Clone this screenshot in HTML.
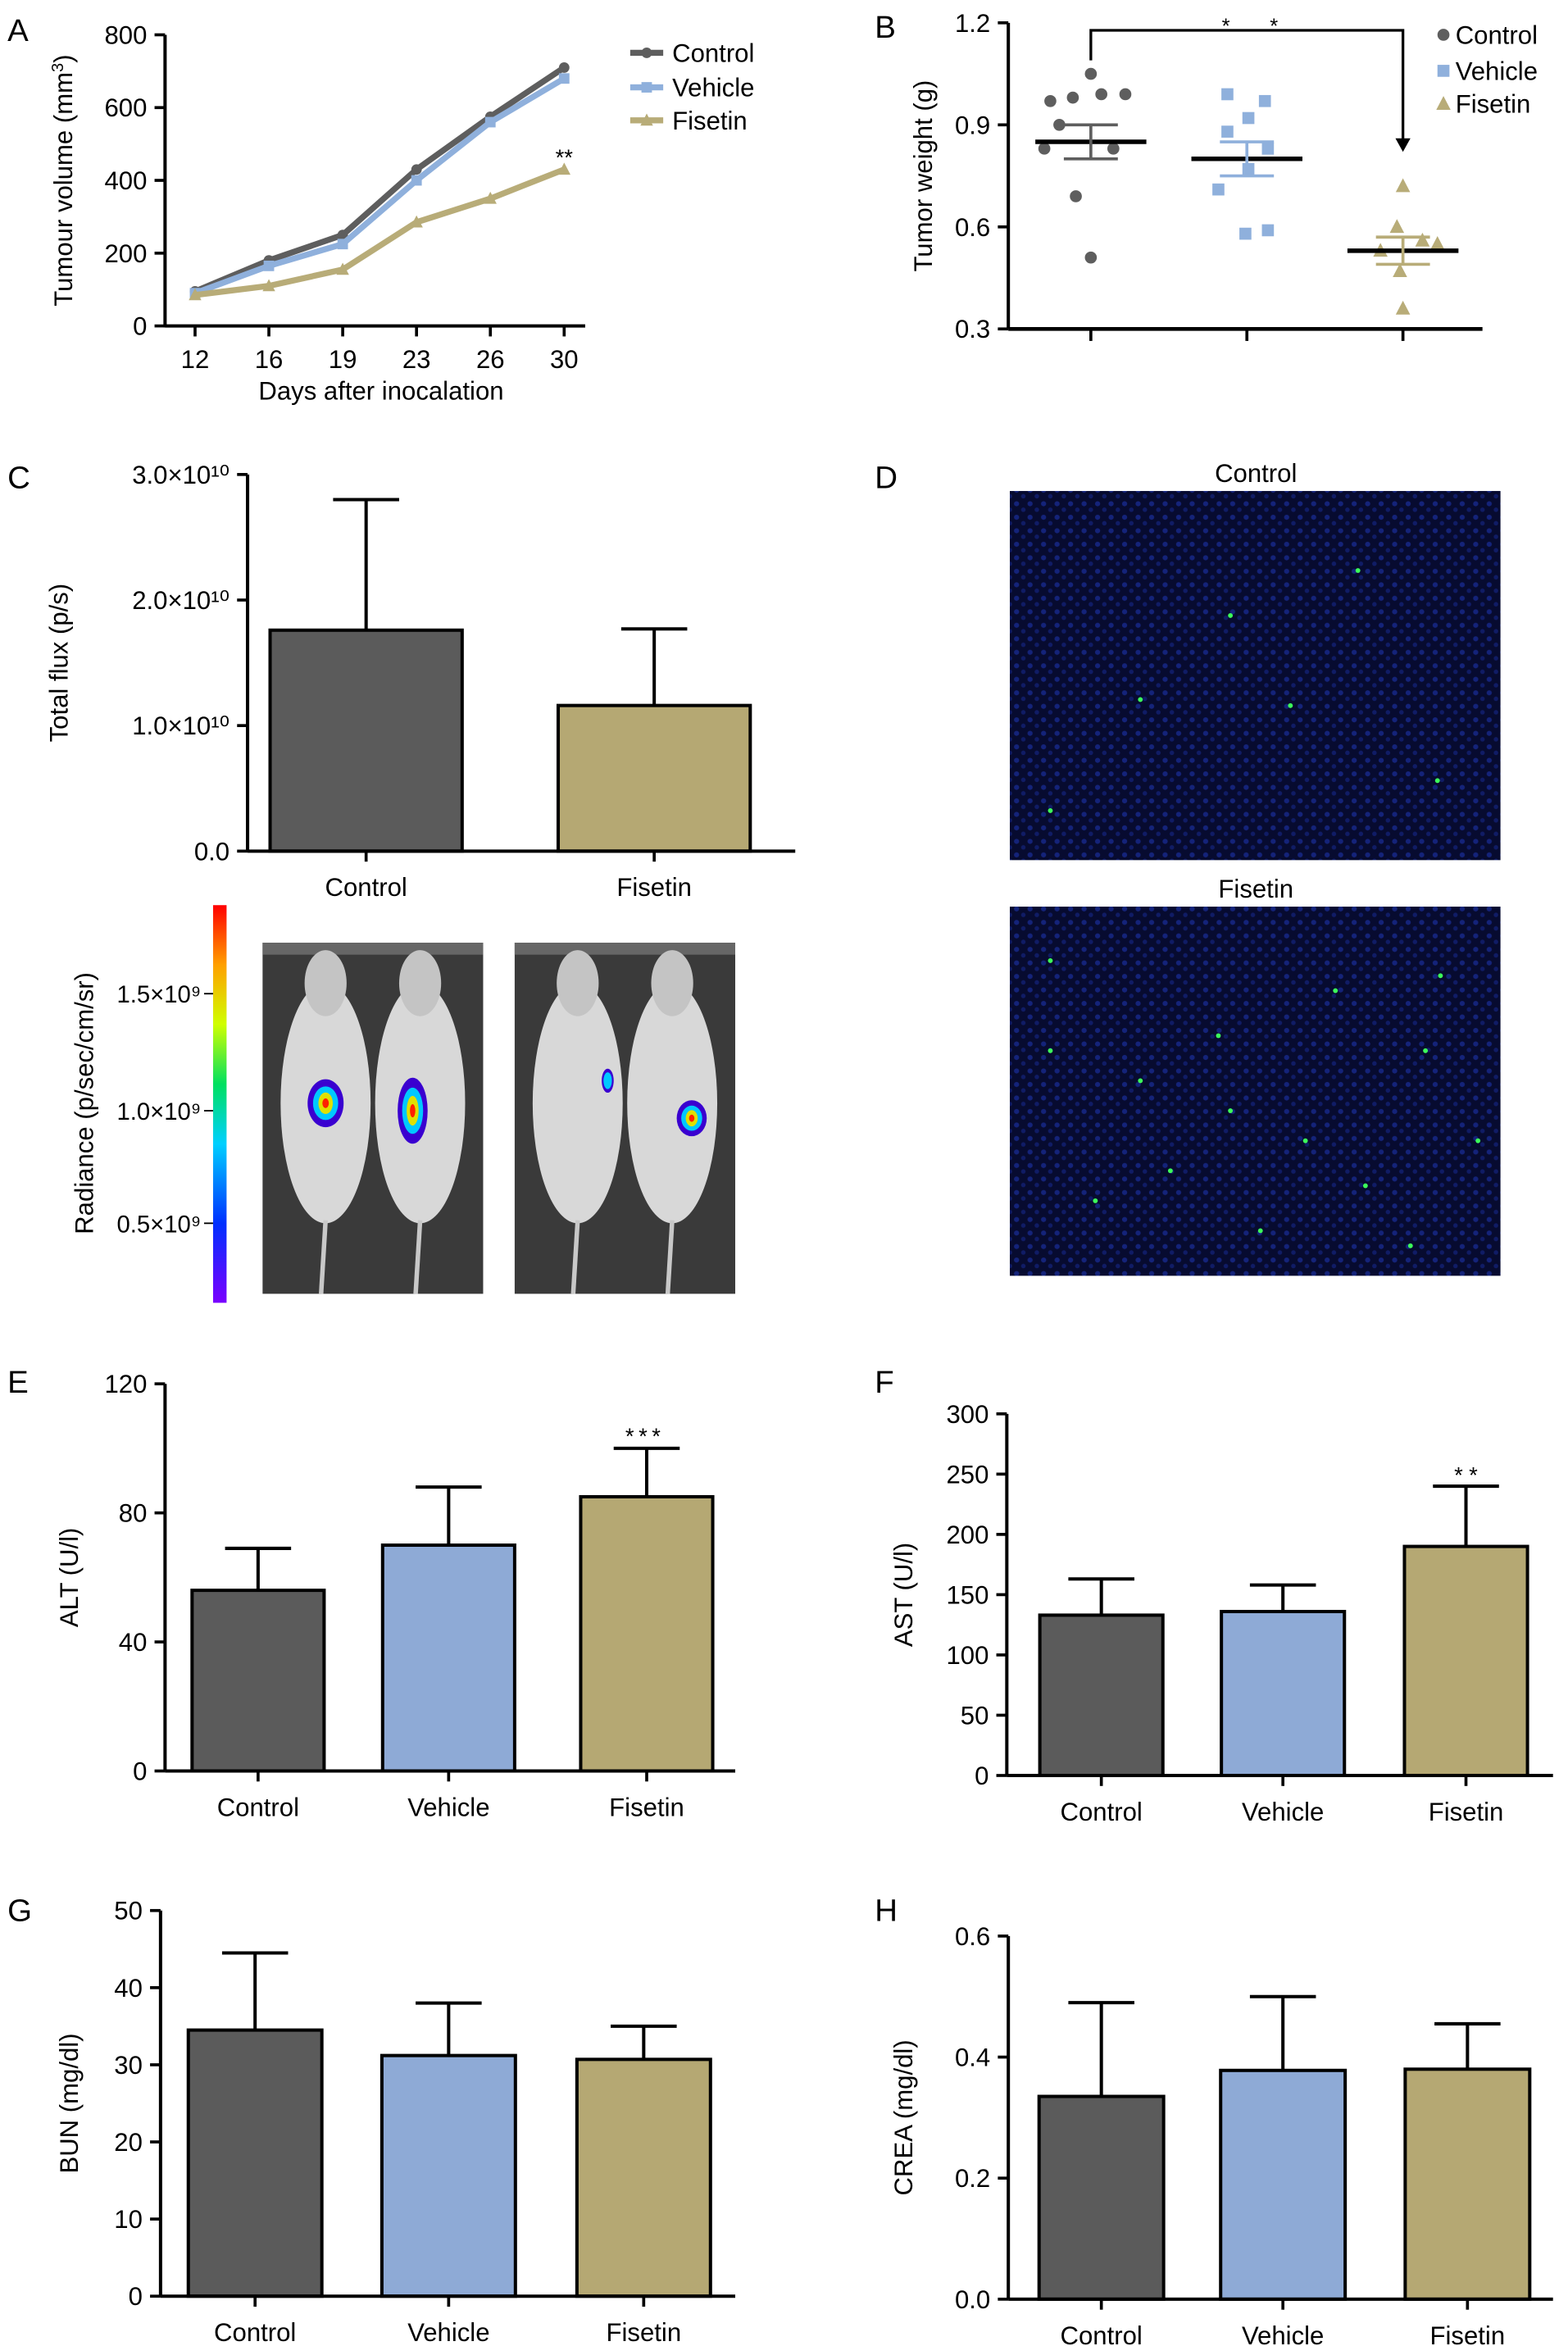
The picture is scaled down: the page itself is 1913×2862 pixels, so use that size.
<!DOCTYPE html>
<html><head><meta charset="utf-8">
<style>
html,body{margin:0;padding:0;background:#fff;}
svg{display:block;font-family:"Liberation Sans",Arial,sans-serif;}
</style></head>
<body>
<svg id="fig" width="1913" height="2862" viewBox="0 0 1045 1563" xmlns="http://www.w3.org/2000/svg">
<defs>
<pattern id="cells" width="9" height="9" patternUnits="userSpaceOnUse">
<rect width="9" height="9" fill="#070b30"/>
<circle cx="2.5" cy="2.5" r="1.7" fill="#14237a"/>
<circle cx="7" cy="6.5" r="1.5" fill="#101c66"/>
</pattern>
<linearGradient id="rad" x1="0" y1="1" x2="0" y2="0">
<stop offset="0" stop-color="#7a00ff"/><stop offset="0.2" stop-color="#0030ff"/><stop offset="0.4" stop-color="#00d0ff"/>
<stop offset="0.55" stop-color="#00e060"/><stop offset="0.7" stop-color="#d0ff00"/><stop offset="0.85" stop-color="#ffa000"/><stop offset="1" stop-color="#ff0000"/>
</linearGradient>
</defs>
<g id="root"></g>
</svg>
<script>
// ---------- DATA ----------
const lineDays = ['12','16','19','23','26','30'];
const lineControl = [95,180,250,430,575,710];
const lineVehicle = [90,165,225,400,560,680];
const lineFisetin = [85,110,155,285,350,430];
const lineTicks = [0,200,400,600,800];

const wtControl = [1.05,0.97,0.98,0.99,0.99,0.90,0.83,0.83,0.69,0.51];
const wtVehicle = [0.99,0.97,0.92,0.88,0.83,0.77,0.71,0.58,0.59];
const wtFisetin = [0.72,0.60,0.56,0.55,0.53,0.47,0.36];
const wtMeans = [0.85,0.80,0.53];
const wtSem = [0.05,0.05,0.04];
const wtTicks = [0.3,0.6,0.9,1.2];

const fluxCats = ['Control','Fisetin'];
const fluxVals = [1.76,1.16];
const fluxErr = [2.8,1.77];

const altVals = [56,70,85];  const altErr = [69,88,100];
const astVals = [133,136,190]; const astErr = [163,158,240];
const bunVals = [34.5,31.2,30.7]; const bunErr = [44.5,38,35];
const creaVals = [0.335,0.378,0.38]; const creaErr = [0.49,0.5,0.455];
const groupCats = ['Control','Vehicle','Fisetin'];

// ---------- HELPERS ----------
const NS='http://www.w3.org/2000/svg';
const root=document.getElementById('root');
function el(tag,attrs,parent,text){const e=document.createElementNS(NS,tag);for(const k in attrs)e.setAttribute(k,attrs[k]);if(text!==undefined)e.textContent=text;(parent||root).appendChild(e);return e;}
const COL={Control:'#5b5b5b',Vehicle:'#8eaad6',Fisetin:'#b5a873'};
const LCOL={Control:'#5e5e5e',Vehicle:'#8fb0dc',Fisetin:'#b8ac78'};

function panelLetter(t,x,y){const e=el('text',{x:x,y:y,'font-size':21},root,t);}

function yAxis(g,x,y0,y1,ticks,scale,fmt,fs){
 const a=el('line',{x1:x,y1:y0,x2:x,y2:y1,stroke:'#000','stroke-width':2.2},g);
 
 ticks.forEach(t=>{const y=scale(t);el('line',{x1:x-7,y1:y,x2:x,y2:y,stroke:'#000','stroke-width':2},g);
  const tx=el('text',{x:x-12,y:y+6,'font-size':fs||17,'text-anchor':'end'},g,fmt?fmt(t):t);
  });
}
function yTitle(g,x,y,t,fs){const e=el('text',{x:x,y:y,'font-size':fs||17,'text-anchor':'middle',transform:`rotate(-90 ${x} ${y})`},g,t);return e;}

function barChart(name,o){
 const g=el('g',{},root);
 const sc=v=>o.y0-(v-0)/(o.max)*(o.y0-o.yTop);
 o.vals.forEach((v,i)=>{
  const cx=o.cx[i], w=o.bw;
  const e=el('line',{x1:cx,y1:sc(v),x2:cx,y2:sc(o.err[i]),stroke:'#000','stroke-width':2.2},g);
  
  el('line',{x1:cx-22,y1:sc(o.err[i]),x2:cx+22,y2:sc(o.err[i]),stroke:'#000','stroke-width':2.2},g);
  const b=el('rect',{x:cx-w/2,y:sc(v),width:w,height:o.y0-sc(v),fill:COL[o.cats[i]],stroke:'#000','stroke-width':2.2},g);
  
  el('line',{x1:cx,y1:o.y0,x2:cx,y2:o.y0+7,stroke:'#000','stroke-width':2},g);
  const t=el('text',{x:cx,y:o.y0+30,'font-size':17,'text-anchor':'middle'},g,o.cats[i]);
  
 });
 const xa=el('line',{x1:o.ax,y1:o.y0,x2:o.xEnd,y2:o.y0,stroke:'#000','stroke-width':2.2},g);
 
 yAxis(g,o.ax,o.y0,o.yTop,o.ticks,sc,o.fmt,o.fs);
 yTitle(g,o.titleX,(o.y0+o.yTop)/2,o.title);
 return {g,sc};
}

// ---------- PANEL A ----------
panelLetter('A',5,27);
(function(){
 const g=el('g',{},root);
 const y0=217,yT=23,xs=i=>130+i*49.2;const sc=v=>y0-v/800*(y0-yT);
 yAxis(g,110,y0+1,yT,lineTicks,sc);
 const xa=el('line',{x1:110,y1:y0,x2:390,y2:y0,stroke:'#000','stroke-width':2.2},g);
 lineDays.forEach((d,i)=>{el('line',{x1:xs(i),y1:y0,x2:xs(i),y2:y0+7,stroke:'#000','stroke-width':2},g);
  const t=el('text',{x:xs(i),y:y0+28,'font-size':17,'text-anchor':'middle'},g,d);});
 const xt=el('text',{x:254,y:266,'font-size':17,'text-anchor':'middle'},g,'Days after inocalation');
 const yt=el('text',{x:48,y:120,'font-size':17,'text-anchor':'middle',transform:'rotate(-90 48 120)'},g);
 el('tspan',{},yt,'Tumour volume (mm');el('tspan',{dy:-6,'font-size':11},yt,'3');el('tspan',{dy:6},yt,')');
 [['Control',lineControl,'circle'],['Vehicle',lineVehicle,'square'],['Fisetin',lineFisetin,'tri']].forEach(([n,d,m])=>{
  const p=el('polyline',{points:d.map((v,i)=>xs(i)+','+sc(v)).join(' '),fill:'none',stroke:LCOL[n],'stroke-width':4},g);
  
  d.forEach((v,i)=>{const mk=marker(g,m,xs(i),sc(v),3.5,LCOL[n]);});
 });
 const s=el('text',{x:376,y:110,'font-size':15,'text-anchor':'middle'},g,'**');
 [['Control',35,'circle'],['Vehicle',58,'square'],['Fisetin',80,'tri']].forEach(([n,y,m])=>{
  const lg=el('g',{},g);
  el('line',{x1:420,y1:y,x2:442,y2:y,stroke:LCOL[n],'stroke-width':4},lg);marker(lg,m,431,y,3.5,LCOL[n]);
  el('text',{x:448,y:y+6,'font-size':17},lg,n);
 });
})();
function marker(g,m,x,y,r,c){
 if(m==='circle')return el('circle',{cx:x,cy:y,r:r,fill:c},g);
 if(m==='square')return el('rect',{x:x-r,y:y-r,width:2*r,height:2*r,fill:c},g);
 return el('polygon',{points:`${x},${y-r*1.3} ${x-r*1.2},${y+r} ${x+r*1.2},${y+r}`,fill:c},g);
}

// ---------- PANEL B ----------
panelLetter('B',583,25);
(function(){
 const g=el('g',{},root);
 const y0=219,yT=15,sc=v=>y0-(v-0.3)/0.9*(y0-yT);const cx=[727,831,935];
 yAxis(g,672,y0,yT,wtTicks,sc,v=>v.toFixed(1));
 yTitle(g,621,117,'Tumor weight (g)');
 const xa=el('line',{x1:672,y1:y0,x2:988,y2:y0,stroke:'#000','stroke-width':2.5},g);
 cx.forEach(x=>el('line',{x1:x,y1:y0,x2:x,y2:y0+8,stroke:'#000','stroke-width':2},g));
 const offs=[[0,-27,-12,7,23,-21,15,-31,-10,0],[-13,12,1,-13,14,1,-19,-1,14],[0,-4,13,23,-15,-2,0]];
 [[wtControl,'Control','circle'],[wtVehicle,'Vehicle','square'],[wtFisetin,'Fisetin','tri']].forEach(([d,n,m],k)=>{
  d.forEach((v,i)=>{const p=marker(g,m,cx[k]+(offs[k][i]||0),sc(v),4,LCOL[n]);});
  const ml=el('line',{x1:cx[k]-37,y1:sc(wtMeans[k]),x2:cx[k]+37,y2:sc(wtMeans[k]),stroke:'#000','stroke-width':3},g);
  
  const sc2=LCOL[n];
  el('line',{x1:cx[k],y1:sc(wtMeans[k]-wtSem[k]),x2:cx[k],y2:sc(wtMeans[k]+wtSem[k]),stroke:sc2,'stroke-width':2},g);
  [wtMeans[k]-wtSem[k],wtMeans[k]+wtSem[k]].forEach(v=>el('line',{x1:cx[k]-18,y1:sc(v),x2:cx[k]+18,y2:sc(v),stroke:sc2,'stroke-width':2},g));
 });
 const br=el('polyline',{points:'727,40 727,20 935,20 935,96',fill:'none',stroke:'#000','stroke-width':1.8},g);
 el('polygon',{points:'930,92 940,92 935,101',fill:'#000'},g);
 el('text',{x:817,y:22,'font-size':14,'text-anchor':'middle'},g,'*');el('text',{x:849,y:22,'font-size':14,'text-anchor':'middle'},g,'*');
 [['Control',23,'circle'],['Vehicle',47,'square'],['Fisetin',69,'tri']].forEach(([n,y,m])=>{
  const lg=el('g',{},g);
  marker(lg,m,962,y,4,LCOL[n]);el('text',{x:970,y:y+6,'font-size':17},lg,n);
 });
})();

// ---------- PANEL C ----------
panelLetter('C',5,325);
(function(){
 barChart('total-flux-chart',{vals:fluxVals,err:fluxErr,cats:fluxCats,cx:[244,436],bw:128,y0:567,yTop:316,max:3,ticks:[0,1,2,3],ax:165,xEnd:530,titleX:45,title:'Total flux (p/s)',
  fmt:v=>v===0?'0.0':v.toFixed(1)+'×10¹⁰'});
 const g=el('g',{},root);
 el('rect',{x:142,y:603,width:9,height:265,fill:'url(#rad)'},g);
 [['1.5×10⁹',662],['1.0×10⁹',740],['0.5×10⁹',815]].forEach(([t,y])=>{el('line',{x1:136,y1:y,x2:142,y2:y,stroke:'#000'},g);el('text',{x:134,y:y+6,'font-size':16,'text-anchor':'end'},g,t);});
 yTitle(g,62,735,'Radiance (p/sec/cm/sr)');
 [[175,'control'],[343,'fisetin']].forEach(([x,n],k)=>{
  const im=el('g',{},root);
  el('rect',{x:x,y:628,width:147,height:234,fill:'#3a3a3a'},im);
  el('rect',{x:x,y:628,width:147,height:8,fill:'#666'},im);
  [[x+42,735],[x+105,735]].forEach(([mx,my])=>{
   el('ellipse',{cx:mx,cy:my,rx:30,ry:80,fill:'#d8d8d8'},im);
   el('ellipse',{cx:mx,cy:my-80,rx:14,ry:22,fill:'#c4c4c4'},im);
   el('line',{x1:mx,y1:my+78,x2:mx-3,y2:862,stroke:'#c8c8c8','stroke-width':3},im);
  });
  if(k===0){blob(im,x+42,735,12,16);blob(im,x+100,740,10,22);}else{blob(im,x+62,720,4,8,true);blob(im,x+118,745,10,12);}
 });
 function blob(g,cx,cy,rx,ry,small){el('ellipse',{cx,cy,rx,ry,fill:'#3a00d0'},g);el('ellipse',{cx,cy,rx:rx*0.7,ry:ry*0.7,fill:'#00c8ff'},g);if(!small){el('ellipse',{cx,cy,rx:rx*0.4,ry:ry*0.45,fill:'#e0e000'},g);el('ellipse',{cx,cy,rx:rx*0.18,ry:ry*0.2,fill:'#ff2000'},g);}}
})();

// ---------- PANEL D ----------
panelLetter('D',583,325);
(function(){
 const greens1=[[760,466],[820,410],[905,380],[958,520],[700,540],[860,470]];
 const greens2=[[700,700],[760,720],[812,690],[870,760],[910,790],[950,700],[730,800],[840,820],[985,760],[780,780],[890,660],[940,830],[700,640],[960,650],[820,740]];
 [[327,'Control',greens1],[604,'Fisetin',greens2]].forEach(([y,t,gr])=>{
  const g=el('g',{},root);
  el('rect',{x:673,y:y,width:327,height:246,fill:'url(#cells)'},g);
  gr.forEach(([a,b])=>el('circle',{cx:a,cy:b,r:1.6,fill:'#3cff5a'},g));
  el('text',{x:837,y:y-6,'font-size':17,'text-anchor':'middle'},g,t);
 });
})();

// ---------- PANEL E-H ----------
panelLetter('E',5,928);
barChart('alt-chart',{vals:altVals,err:altErr,cats:groupCats,cx:[172,299,431],bw:88,y0:1180,yTop:922,max:120,ticks:[0,40,80,120],ax:110,xEnd:490,titleX:52,title:'ALT (U/l)'});
el('text',{x:430,y:962,'font-size':15,'text-anchor':'middle','letter-spacing':3},root,'***');
panelLetter('F',583,928);
barChart('ast-chart',{vals:astVals,err:astErr,cats:groupCats,cx:[734,855,977],bw:82,y0:1183,yTop:942,max:300,ticks:[0,50,100,150,200,250,300],ax:671,xEnd:1035,titleX:608,title:'AST (U/l)'});
el('text',{x:979,y:988,'font-size':15,'text-anchor':'middle','letter-spacing':4},root,'**');
panelLetter('G',5,1280);
barChart('bun-chart',{vals:bunVals,err:bunErr,cats:groupCats,cx:[170,299,429],bw:89,y0:1530,yTop:1273,max:50,ticks:[0,10,20,30,40,50],ax:107,xEnd:490,titleX:52,title:'BUN (mg/dl)'});
panelLetter('H',583,1280);
barChart('crea-chart',{vals:creaVals,err:creaErr,cats:groupCats,cx:[734,855,978],bw:83,y0:1532,yTop:1290,max:0.6,ticks:[0,0.2,0.4,0.6],ax:672,xEnd:1035,titleX:608,title:'CREA (mg/dl)',fmt:v=>v.toFixed(1)});
</script>
</body></html>
